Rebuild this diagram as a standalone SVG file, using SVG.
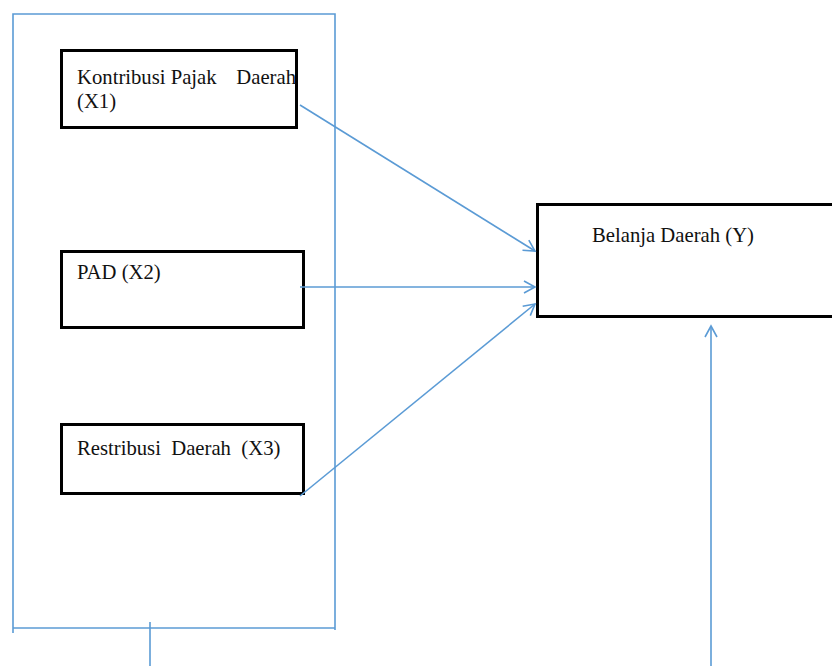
<svg xmlns="http://www.w3.org/2000/svg" width="832" height="666" viewBox="0 0 832 666">
<style>
.box{fill:#fff;stroke:#000;stroke-width:3}
.blue{fill:none;stroke:#5b9bd5;stroke-width:1.6}
.t{font-family:"Liberation Serif","Times New Roman",serif;font-size:20.7px;fill:#111}
</style>
<defs>
<marker id="ah" markerWidth="14" markerHeight="14" refX="12" refY="7" orient="auto" markerUnits="userSpaceOnUse">
<path d="M1,1 L12,7 L1,13" fill="none" stroke="#5b9bd5" stroke-width="1.6"/>
</marker>
</defs>
<rect width="832" height="666" fill="#fff"/>
<g id="frame" class="blue">
<polyline points="13,633 13,14 335,14 335,630"/>
<line x1="13" y1="628" x2="335" y2="628"/>
<line x1="150" y1="622" x2="150" y2="666"/>
</g>
<g id="x1">
<rect class="box" x="61.5" y="50.5" width="235" height="77"/>
<text class="t" x="77" y="84">Kontribusi Pajak<tspan x="296" text-anchor="end">Daerah</tspan></text>
<text class="t" x="77" y="108">(X1)</text>
</g>
<g id="x2">
<rect class="box" x="61.5" y="251.5" width="242" height="76"/>
<text class="t" x="77" y="279">PAD (X2)</text>
</g>
<g id="x3">
<rect class="box" x="61.5" y="424.5" width="242" height="69"/>
<text class="t" x="77" y="455" xml:space="preserve">Restribusi  Daerah  (X3)</text>
</g>
<g id="y">
<rect class="box" x="537.5" y="204.5" width="300" height="112"/>
<text class="t" x="592" y="242">Belanja Daerah (Y)</text>
</g>
<g id="connectors" class="blue">
<line x1="300" y1="105" x2="535" y2="251" marker-end="url(#ah)"/>
<line x1="300" y1="287" x2="535" y2="287" marker-end="url(#ah)"/>
<line x1="300" y1="496" x2="535" y2="304" marker-end="url(#ah)"/>
<line x1="711" y1="666" x2="711" y2="326" marker-end="url(#ah)"/>
</g>
</svg>
